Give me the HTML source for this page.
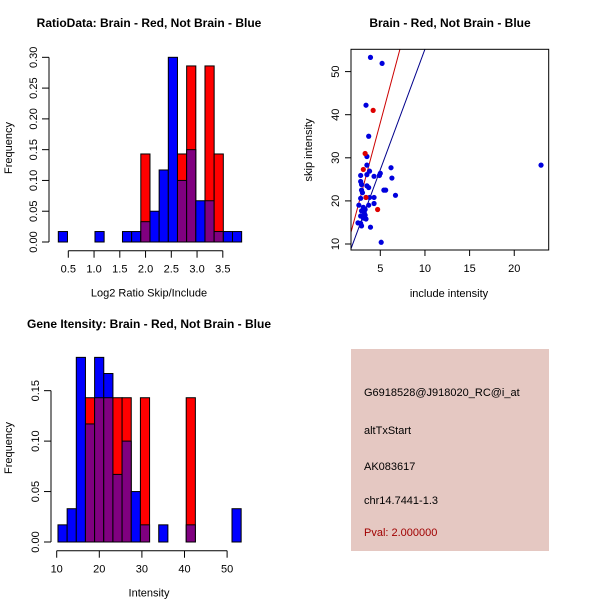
<!DOCTYPE html>
<html><head><meta charset="utf-8"><style>
body{margin:0;background:#fff}
svg{display:block;font-family:"Liberation Sans",sans-serif}
</style></head><body>
<svg id="c" width="600" height="600" viewBox="0 0 600 600"></svg>
<script>
// Ratio histogram (bins of 0.178 from 0.306)
const ratioBlue=[0.017,0,0,0,0.017,0,0,0.017,0.017,0.033,0.05,0.117,0.30,0.10,0.15,0.067,0.067,0.017,0.017,0.017];
const ratioRed=[0,0,0,0,0,0,0,0,0,0.143,0,0,0,0.143,0.286,0,0.286,0.143,0,0];
const ratioYTicks=[0,0.05,0.10,0.15,0.20,0.25,0.30];
const ratioXTicks=[0.5,1.0,1.5,2.0,2.5,3.0,3.5];
// Intensity histogram (bins of 2.15 from 10.3)
const intBlue=[0.017,0.033,0.183,0.117,0.183,0.167,0.067,0.10,0.05,0.017,0,0.017,0,0,0.017,0,0,0,0,0.033];
const intRed=[0,0,0,0.143,0.143,0.143,0.143,0.143,0,0.143,0,0,0,0,0.143,0,0,0,0,0];
const intYTicks=[0,0.05,0.10,0.15];
const intXTicks=[10,20,30,40,50];
// Scatter
const blueX=[3.9,5.2,3.4,3.7,3.5,3.5,6.2,23.0,3.8,2.8,3.5,5.0,4.9,4.3,6.3,2.8,2.9,3.5,3.7,2.9,5.4,5.6,3.0,6.7,3.4,3.8,4.3,2.8,4.3,2.6,3.7,3.1,3.3,2.9,3.2,3.3,2.8,3.1,3.4,2.5,2.8,2.9,3.9,5.1];
const blueY=[53.3,51.9,42.2,35.0,30.3,28.3,27.7,28.3,26.9,25.9,26.1,26.4,25.9,25.7,25.3,24.5,23.8,23.5,23.1,22.5,22.5,22.5,21.9,21.3,20.8,20.8,20.8,20.6,19.4,19.0,19.0,18.5,18.0,17.7,17.3,16.7,16.5,16.0,15.8,14.9,14.8,14.2,13.9,10.4];
const redX=[4.2,3.3,3.1,3.4,4.7];
const redY=[41.0,31.0,27.3,20.8,18.0];
const lineRed=[7.75,-0.6];   // slope, intercept
const lineBlue=[5.59,-0.7];
const scXTicks=[5,10,15,20];
const scYTicks=[10,20,30,40,50];

const svg=document.getElementById('c');
const NS='http://www.w3.org/2000/svg';
function mk(tag,attrs,parent){const e=document.createElementNS(NS,tag);for(const k in attrs)e.setAttribute(k,attrs[k]);(parent||svg).appendChild(e);return e;}
function txt(s,x,y,attrs,parent){const e=mk('text',Object.assign({x:x,y:y,'font-size':11,'text-anchor':'middle',fill:'#000'},attrs||{}),parent);e.textContent=s;return e;}
function vtxt(s,x,y,parent){return txt(s,x,y,{transform:`rotate(-90 ${x} ${y})`},parent);}

function hist(o){
  const g=mk('g',{});
  
  
  const X=v=>o.x0+(v-o.v0)*o.kx, Y=v=>o.y0-v*o.ky;
  for(let i=0;i<o.blue.length;i++){
    const l=X(o.binStart+i*o.bw), w=o.bw*o.kx, b=o.blue[i], r=o.red[i];
    const drawBar=(v,fill,nm)=>{if(v<=0)return;const e=mk('rect',{x:l,y:Y(v),width:w,height:Y(0)-Y(v),fill:fill,stroke:'#000','stroke-width':1},g);
      };
    if(b>=r){drawBar(b,'#0000ff','bar-blue');drawBar(r,'#800080','bar-overlap');}
    else{drawBar(r,'#ff0000','bar-red');drawBar(b,'#800080','bar-overlap');}
  }
  const ya=mk('g',{},g);
  const yt=o.yTicks;
  mk('line',{x1:o.yax,x2:o.yax,y1:Y(yt[0]),y2:Y(yt[yt.length-1]),stroke:'#000'},ya);
  yt.forEach(t=>{mk('line',{x1:o.yax,x2:o.yax-7,y1:Y(t),y2:Y(t),stroke:'#000'},ya);
    vtxt(t.toFixed(2),o.yax-12,Y(t),ya);});
  const xa=mk('g',{},g);
  const xt=o.xTicks;
  mk('line',{x1:X(xt[0]),x2:X(xt[xt.length-1]),y1:o.xay,y2:o.xay,stroke:'#000'},xa);
  xt.forEach(t=>{mk('line',{x1:X(t),x2:X(t),y1:o.xay,y2:o.xay+7,stroke:'#000'},xa);
    txt(o.fmt(t),X(t),o.xay+22,{},xa);});
  const ti=txt(o.title,o.tx,o.ty,{'font-weight':'bold','font-size':12});
  const xl=txt(o.xlab,o.tx,o.xay+46);
  const yl=vtxt('Frequency',12,o.ly);
}
hist({name:'ratio-histogram',blue:ratioBlue,red:ratioRed,yTicks:ratioYTicks,xTicks:ratioXTicks,
  x0:68.3,v0:0.5,kx:51.5,y0:242,ky:615.6,binStart:0.306,bw:0.178,yax:49,xay:250.7,
  fmt:t=>t.toFixed(1),title:'RatioData: Brain - Red, Not Brain - Blue',tx:149,ty:27,xlab:'Log2 Ratio Skip/Include',ly:148});
hist({name:'intensity-histogram',blue:intBlue,red:intRed,yTicks:intYTicks,xTicks:intXTicks,
  x0:56.7,v0:10,kx:4.26,y0:542,ky:1008.9,binStart:10.3,bw:2.15,yax:51,xay:550.7,
  fmt:t=>String(t),title:'Gene Itensity: Brain - Red, Not Brain - Blue',tx:149,ty:328,xlab:'Intensity',ly:448});

// scatter
(function(){
  const g=mk('g',{});
  
  
  const X=v=>380.3+(v-5)*8.93, Y=v=>244-(v-10)*4.31;
  const L=351,R=548.7,T=49.3,B=250;
  mk('clipPath',{id:'clp'},g);
  mk('rect',{x:L,y:T,width:R-L,height:B-T},document.getElementById('clp'));
  const xmin=1.72,xmax=23.86;
  [[lineBlue,'#00008b','fit-line-blue'],[lineRed,'#cc0000','fit-line-red']].forEach(([c,col,nm])=>{
    const e=mk('line',{x1:X(xmin),y1:Y(c[0]*xmin+c[1]),x2:X(xmax),y2:Y(c[0]*xmax+c[1]),stroke:col,'stroke-width':1,'clip-path':'url(#clp)'},g);
    
  });
  blueX.forEach((x,i)=>{const e=mk('circle',{cx:X(x),cy:Y(blueY[i]),r:2.6,fill:'#0000dd'},g);
    });
  redX.forEach((x,i)=>{const e=mk('circle',{cx:X(x),cy:Y(redY[i]),r:2.6,fill:'#dd0000'},g);
    });
  mk('rect',{x:L,y:T,width:R-L,height:B-T,fill:'none',stroke:'#000'},g);
  scXTicks.forEach(t=>{mk('line',{x1:X(t),x2:X(t),y1:B,y2:B+6,stroke:'#000'},g);txt(String(t),X(t),B+22,{},g);});
  scYTicks.forEach(t=>{mk('line',{x1:L,x2:L-6,y1:Y(t),y2:Y(t),stroke:'#000'},g);
    vtxt(String(t),L-12,Y(t),g);});
  const ti=txt('Brain - Red, Not Brain - Blue',450,27,{'font-weight':'bold','font-size':12});
  const xl=txt('include intensity',449,297);
  const yl=vtxt('skip intensity',312,150);
})();

// info box
(function(){
  const g=mk('g',{});
  
  
  mk('rect',{x:351,y:349,width:198,height:202,fill:'#e5c8c2'},g);
  const lines=[['G6918528@J918020_RC@i_at',396,'#000','probe-id'],['altTxStart',434,'#000','event-type'],['AK083617',470,'#000','accession'],['chr14.7441-1.3',504,'#000','location'],['Pval: 2.000000',536,'#a00000','p-value']];
  lines.forEach(([s,y,c,nm])=>{const e=txt(s,364,y,{'text-anchor':'start',fill:c},g);});
})();
</script>
</body></html>
